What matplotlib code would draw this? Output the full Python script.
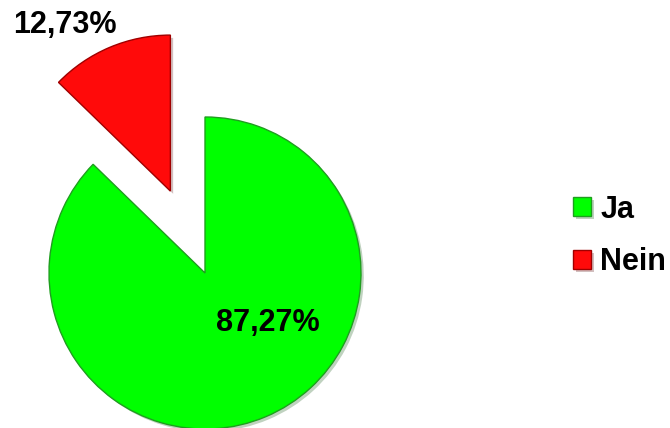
import matplotlib
matplotlib.use('Agg')
import matplotlib.pyplot as plt
import matplotlib.patheffects as pe

labels = ['Ja', 'Nein']
values = [87.27, 12.73]
colors = ['#00ff00', '#ff0a0a']
edges = ['#1f9e1f', '#a00000']
pct_text = ['87,27%', '12,73%']

plt.rcParams['font.family'] = ['Liberation Sans', 'DejaVu Sans']

W, H = 670, 428
R = 156
fig = plt.figure(figsize=(W / 100, H / 100), dpi=100)
ax = fig.add_axes([0, 0, 1, 1])

# explode is in data units here (not scaled by radius)
wedges, _ = ax.pie(values, colors=colors, startangle=90, counterclock=False,
                   explode=[0, 0.57 * R], radius=R, center=(205, H - 273),
                   frame=True)
ax.set_xlim(0, W)
ax.set_ylim(0, H)
ax.set_aspect('equal')
ax.axis('off')

for w, ec in zip(wedges, edges):
    w.set_edgecolor(ec)
    w.set_linewidth(1.0)
    w.set_path_effects([pe.SimplePatchShadow(offset=(2, -2), alpha=0.25),
                        pe.Normal()])

# percentage labels
ax.text(268, H - 323, pct_text[0], fontsize=22, fontweight='bold',
        ha='center', va='center')
ax.text(65, H - 25, pct_text[1], fontsize=22, fontweight='bold',
        ha='center', va='center')

leg = ax.legend(wedges, labels, loc='center left',
                bbox_to_anchor=(573 / W, 1 - 236 / H),
                frameon=False, prop={'size': 22, 'weight': 'bold'},
                handlelength=0.6, handleheight=0.6, handletextpad=0.3,
                labelspacing=0.75, borderpad=0, borderaxespad=0)

fig.savefig('out.png', dpi=100)
